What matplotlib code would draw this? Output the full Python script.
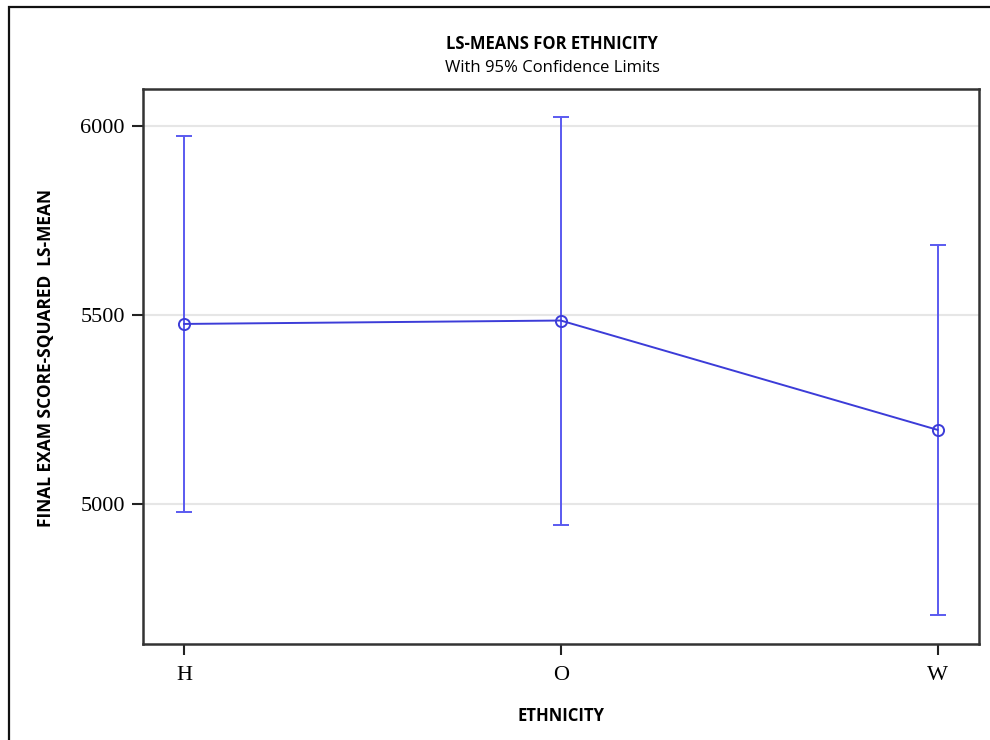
import numpy as np
import matplotlib.pyplot as plt
from matplotlib.patches import Rectangle

# LS-means and 95% confidence limits
ethnicity = ['H', 'O', 'W']
lsmean = [5476, 5485, 5196]
lower_cl = [4980, 4945, 4706]
upper_cl = [5972, 6023, 5685]

sans = ['Open Sans', 'DejaVu Sans']
serif = ['Liberation Serif', 'DejaVu Serif']

fig = plt.figure(figsize=(9.9, 7.4), dpi=100)
ax = fig.add_axes([143 / 990, 1 - 644 / 740, (979 - 143) / 990, (644 - 89) / 740])

# outer frame (clipped at right and bottom like the screenshot)
fig.patches.append(Rectangle((9 / 990, -0.1), 1.2, 1 - 7 / 740 + 0.1,
                             transform=fig.transFigure, fill=False,
                             edgecolor='#111111', linewidth=1.6))

x = np.arange(len(ethnicity))
mean = np.array(lsmean)
yerr = np.vstack([mean - np.array(lower_cl), np.array(upper_cl) - mean])

ax.errorbar(x, mean, yerr=yerr, fmt='none', ecolor='#5a5af0', elinewidth=1.4,
            capsize=5.5, capthick=1.4, zorder=2)
ax.plot(x, mean, color='#3c3cd8', linewidth=1.4, marker='o', markersize=8,
        markerfacecolor='none', markeredgecolor='#3c3cd8', markeredgewidth=1.4, zorder=3)

ax.set_xlim(-0.109, 2.11)
ax.set_ylim(4630, 6097)
ax.set_xticks(x)
ax.set_xticklabels(ethnicity, family=serif, fontsize=16)
ax.set_yticks([5000, 5500, 6000])
ax.set_yticklabels(['5000', '5500', '6000'], family=serif, fontsize=16)
ax.tick_params(direction='out', length=8, width=1.5, color='#222222', pad=5)
ax.tick_params(axis='x', pad=8)

ax.grid(axis='y', color='#e6e6e6', linewidth=1.5)
ax.set_axisbelow(True)
for s in ax.spines.values():
    s.set_linewidth(1.8)
    s.set_color('#333333')

ax.set_xlabel('ETHNICITY', family=sans, fontsize=12, fontweight='bold', labelpad=16)
ax.set_ylabel('FINAL EXAM SCORE-SQUARED  LS-MEAN', family=sans, fontsize=12.5,
              fontweight='bold')
ax.yaxis.set_label_coords(-88 / 836, 0.515)

fig.text(552 / 990, 1 - 44 / 740, 'LS-MEANS FOR ETHNICITY', family=sans, fontsize=12,
         fontweight='bold', ha='center', va='center')
fig.text(552 / 990, 1 - 68 / 740, 'With 95% Confidence Limits', family=sans, fontsize=12,
         ha='center', va='center')

fig.savefig('out.png', dpi=100)
